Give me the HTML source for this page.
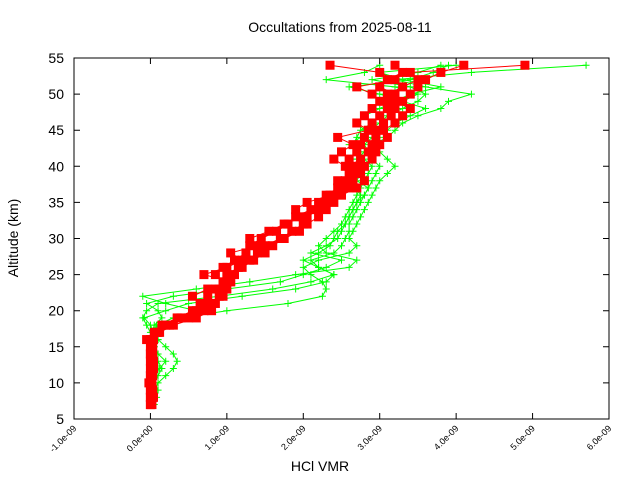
<!DOCTYPE html>
<html><head><meta charset="utf-8"><style>
html,body{margin:0;padding:0;background:#fff;}
svg{display:block;font-family:"Liberation Sans",sans-serif;}
</style></head><body>
<svg id="chart" width="640" height="480" viewBox="0 0 640 480">
<rect width="640" height="480" fill="#fff"/>
<text x="340" y="32" text-anchor="middle" font-size="14" fill="#000">Occultations from 2025-08-11</text>
<text x="320" y="471" text-anchor="middle" font-size="14" fill="#000">HCl VMR</text>
<text transform="translate(18,238) rotate(-90)" text-anchor="middle" font-size="14" fill="#000">Altitude (km)</text>
<g id="series"></g>
<g id="axes"></g>
</svg>
<script>
// values in units of 1e-9
const xTicks = [-1, 0, 1, 2, 3, 4, 5, 6];
const xTickLabels = ["-1.0e-09","0.0e+00","1.0e-09","2.0e-09","3.0e-09","4.0e-09","5.0e-09","6.0e-09"];
const yTicks = [5, 10, 15, 20, 25, 30, 35, 40, 45, 50, 55];
const altitudes = [7,8,9,10,11,12,13,14,15,16,17,18,19,20,21,22,23,24,25,26,27,28,29,30,31,32,33,34,35,36,37,38,39,40,41,42,43,44,45,46,47,48,49,50,51,52,53,54];
const redA = [0.0,0.0,0.0,-0.02,0.0,0.02,0.0,0.03,0.0,-0.05,0.05,0.15,0.35,0.55,0.7,0.75,0.85,0.95,0.85,0.95,1.1,1.25,1.3,1.45,1.65,1.8,1.9,2.1,2.2,2.3,2.45,2.55,2.6,2.7,2.6,2.7,2.75,2.8,2.9,2.9,3.0,3.1,3.1,3.2,3.0,3.1,3.3,3.2];
const redB = [0.02,0.0,0.03,0.0,0.02,0.0,0.03,0.0,0.02,0.04,0.1,0.25,0.5,0.7,0.85,0.95,1.0,1.05,1.0,1.15,1.3,1.4,1.5,1.7,1.85,2.0,2.05,2.2,2.3,2.4,2.6,2.65,2.7,2.6,2.75,2.85,2.9,2.95,3.0,3.05,3.15,3.2,3.3,3.4,3.5,3.6,3.8,4.1];
const redC = [0.0,0.03,0.0,0.02,0.0,0.04,0.02,0.0,0.03,0.0,0.08,0.2,0.4,0.6,0.8,0.9,0.9,1.0,1.1,1.2,1.35,1.5,1.6,1.75,1.95,2.05,2.2,2.3,2.4,2.5,2.7,2.8,2.7,2.8,2.9,2.95,3.0,3.1,3.05,3.2,3.3,3.4,3.2,3.1,3.3,3.5,3.4,4.9];
const redD = [0.01,0.04,0.02,0.0,0.03,0.01,0.04,0.02,0.01,0.03,0.12,0.3,0.6,0.8,0.65,0.55,0.75,1.05,0.7,1.0,1.2,1.05,1.4,1.3,1.55,1.75,2.0,1.9,2.05,2.35,2.5,2.45,2.75,2.55,2.4,2.5,2.65,2.45,2.85,2.7,2.8,2.9,3.0,2.9,2.7,3.2,3.0,2.35];
const greenA = [0.0,0.02,0.05,0.1,0.2,0.3,0.35,0.3,0.2,0.1,0.05,0.1,0.4,1.0,1.8,2.25,2.3,2.25,2.1,2.0,2.2,2.6,2.7,2.6,2.65,2.7,2.75,2.8,2.85,2.9,2.95,3.0,3.1,3.2,3.1,3.0,2.9,3.1,3.2,3.3,3.5,3.8,3.9,4.2,3.6,3.2,4.2,5.7];
const greenB = [0.0,0.0,0.02,0.05,0.1,0.15,0.1,0.05,0.0,0.02,0.0,-0.05,-0.1,-0.05,0.1,0.9,1.6,2.1,2.4,2.2,2.1,2.4,2.5,2.55,2.6,2.6,2.65,2.7,2.75,2.8,2.85,2.7,2.75,2.8,2.7,2.8,2.9,3.0,2.8,2.7,2.8,3.0,3.2,3.4,3.8,3.3,3.0,4.0];
const greenC = [0.05,0.08,0.1,0.05,0.02,0.0,0.02,0.0,0.05,0.1,0.05,0.0,-0.08,0.2,0.5,1.2,1.9,2.3,2.4,2.2,2.0,2.2,2.35,2.4,2.45,2.55,2.6,2.65,2.7,2.75,2.7,2.65,2.7,2.75,2.7,2.75,2.65,2.7,2.75,2.9,3.0,3.1,3.3,3.5,3.2,2.3,2.8,3.0];
const greenD = [0.0,0.05,0.0,0.03,0.06,0.1,0.05,0.02,0.0,-0.02,0.02,0.05,0.15,0.1,-0.05,0.3,1.0,1.7,2.0,2.3,2.5,2.1,2.3,2.45,2.5,2.55,2.6,2.65,2.7,2.8,2.85,2.9,2.95,3.0,2.9,2.85,2.8,2.9,3.1,3.2,3.4,3.6,3.3,3.0,2.6,3.4,3.7,3.9];
const greenE = [0.02,0.0,0.04,0.0,0.05,0.12,0.2,0.1,0.05,0.0,0.03,0.08,0.3,0.6,0.2,-0.1,0.6,1.3,1.9,2.6,2.7,2.3,2.2,2.3,2.4,2.5,2.55,2.6,2.65,2.7,2.75,2.8,2.85,2.9,2.8,2.7,2.6,2.75,2.85,3.0,3.1,3.3,3.5,3.6,3.4,2.9,3.5,3.8];
const redSeries = [redA, redB, redC, redD];
const greenSeries = [greenA, greenB, greenC, greenD, greenE];

const L=74,R=609,T=58,B=419;
const xMin=-1,xMax=6,yMin=5,yMax=55;
function xs(v){return L+(v-xMin)/(xMax-xMin)*(R-L);}
function ys(v){return B-(v-yMin)/(yMax-yMin)*(B-T);}
const NS="http://www.w3.org/2000/svg";
const ser=document.getElementById('series');
const axes=document.getElementById('axes');
function mk(tag,attrs,parent){const e=document.createElementNS(NS,tag);for(const k in attrs)e.setAttribute(k,attrs[k]);parent.appendChild(e);return e;}

const defs=mk('defs',{},ser);
const cp=mk('clipPath',{id:'clip'},defs);
mk('rect',{x:L,y:T,width:R-L,height:B-T},cp);
const g=mk('g',{'clip-path':'url(#clip)'},ser);

greenSeries.forEach((s,i)=>{
  const pts=s.map((v,j)=>xs(v).toFixed(1)+','+ys(altitudes[j]).toFixed(1)).join(' ');
  const pl=mk('polyline',{points:pts,fill:'none',stroke:'#00ff00','stroke-width':1},g);
  
  
  s.forEach((v,j)=>{
    const x=xs(v),y=ys(altitudes[j]);
    const p=mk('path',{d:`M${x-3.5},${y}h7M${x},${y-3.5}v7`,stroke:'#00ff00','stroke-width':1},g);
    
    
  });
});
redSeries.forEach((s,i)=>{
  const pts=s.map((v,j)=>xs(v).toFixed(1)+','+ys(altitudes[j]).toFixed(1)).join(' ');
  const pl=mk('polyline',{points:pts,fill:'none',stroke:'#ff0000','stroke-width':1},g);
  
  
  s.forEach((v,j)=>{
    const x=xs(v),y=ys(altitudes[j]);
    const r=mk('rect',{x:x-4.5,y:y-4.5,width:9,height:9,fill:'#ff0000'},g);
    
    
  });
});

const fr=mk('rect',{x:L,y:T,width:R-L,height:B-T,fill:'none',stroke:'#000','stroke-width':1},axes);


xTicks.forEach((v,i)=>{
  const x=xs(v);
  mk('path',{d:`M${x},${B}v-6M${x},${T}v6`,stroke:'#000','stroke-width':1},axes);
  const t=mk('text',{x:x+3,y:B+10,'font-size':9,'text-anchor':'end',transform:`rotate(-45 ${x+3} ${B+10})`,fill:'#000'},axes);
  t.textContent=xTickLabels[i];
  
  
});
yTicks.forEach(v=>{
  const y=ys(v);
  mk('path',{d:`M${L},${y}h6M${R},${y}h-6`,stroke:'#000','stroke-width':1},axes);
  const t=mk('text',{x:L-10,y:y+5,'font-size':14,'text-anchor':'end',fill:'#000'},axes);
  t.textContent=String(v);
  
  
});
</script>
</body></html>
